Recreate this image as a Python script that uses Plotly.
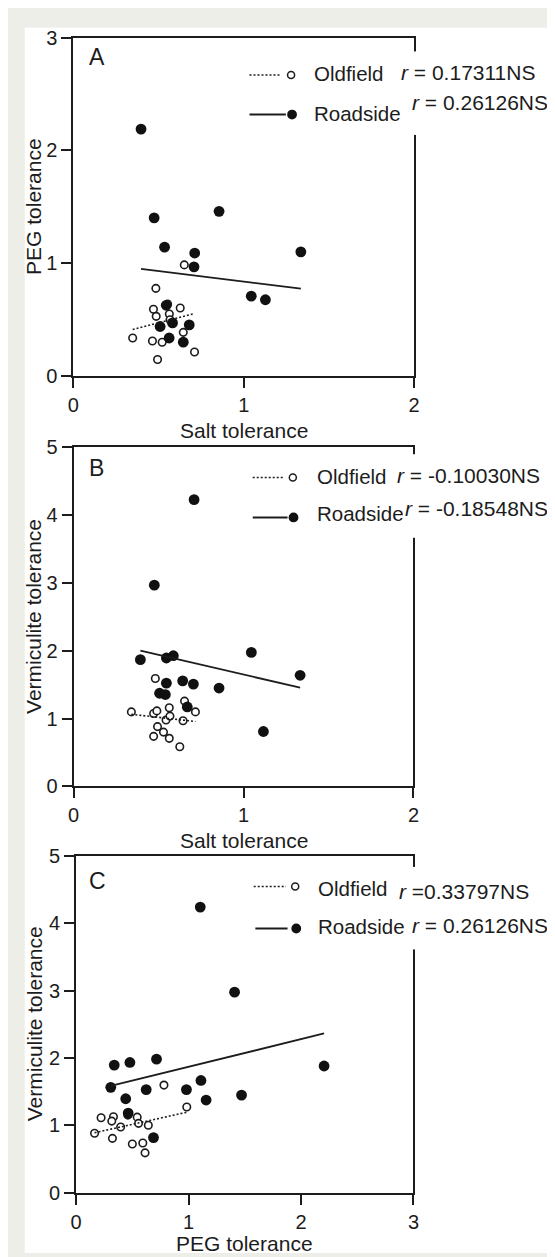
import numpy as np
import plotly.graph_objects as go

W, H = 555, 1257

# ---------------- data ----------------
# Panel A: Salt tolerance (x) vs PEG tolerance (y)
a_old_salt = [0.348, 0.484, 0.470, 0.486, 0.627, 0.563, 0.464, 0.521, 0.645, 0.711, 0.494, 0.651, 0.553, 0.567, 0.580]
a_old_peg = [0.338, 0.778, 0.593, 0.530, 0.604, 0.551, 0.311, 0.300, 0.388, 0.214, 0.148, 0.986, 0.640, 0.500, 0.470]
a_road_salt = [0.397, 0.474, 0.535, 0.855, 0.712, 0.708, 1.335, 1.044, 1.127, 0.545, 0.509, 0.582, 0.562, 0.680, 0.645]
a_road_peg = [2.190, 1.403, 1.143, 1.461, 1.091, 0.969, 1.102, 0.709, 0.677, 0.628, 0.440, 0.472, 0.338, 0.454, 0.301]

# Panel B: Salt tolerance (x) vs Vermiculite tolerance (y)
b_old_salt = [0.340, 0.481, 0.471, 0.490, 0.563, 0.544, 0.567, 0.494, 0.471, 0.529, 0.563, 0.625, 0.653, 0.717, 0.644]
b_old_verm = [1.098, 1.590, 1.074, 1.113, 1.160, 0.978, 1.036, 0.881, 0.737, 0.800, 0.708, 0.583, 1.257, 1.098, 0.968]
b_road_salt = [0.709, 0.475, 0.393, 0.546, 0.587, 1.046, 1.333, 0.546, 0.642, 0.705, 0.856, 0.506, 0.540, 0.669, 1.117]
b_road_verm = [4.229, 2.967, 1.869, 1.893, 1.927, 1.975, 1.638, 1.522, 1.556, 1.508, 1.450, 1.373, 1.354, 1.171, 0.809]

# Panel C: PEG tolerance (x) vs Vermiculite tolerance (y)
c_old_peg = [0.164, 0.222, 0.323, 0.332, 0.317, 0.396, 0.543, 0.555, 0.642, 0.500, 0.593, 0.613, 0.781, 0.984, 0.460]
c_old_verm = [0.882, 1.110, 0.805, 1.125, 1.061, 0.974, 1.120, 1.028, 0.999, 0.722, 0.736, 0.590, 1.596, 1.271, 1.150]
c_road_peg = [1.104, 1.409, 0.339, 0.478, 0.715, 2.205, 0.308, 0.623, 0.981, 1.110, 1.156, 1.471, 0.441, 0.463, 0.688]
c_road_verm = [4.238, 2.976, 1.893, 1.932, 1.981, 1.879, 1.563, 1.529, 1.529, 1.665, 1.374, 1.447, 1.393, 1.180, 0.816]

panel_letters = ["A", "B", "C"]
x_titles = ["Salt tolerance", "Salt tolerance", "PEG tolerance"]
y_titles = ["PEG tolerance", "Vermiculite tolerance", "Vermiculite tolerance"]
x_ranges = [[0, 2], [0, 2], [0, 3]]
y_ranges = [[0, 3], [0, 5], [0, 5]]
group_names = ["Oldfield", "Roadside"]
r_old_text = ["<i>r</i> = 0.17311NS", "<i>r</i> = -0.10030NS", "<i>r</i> =0.33797NS"]
r_road_text = ["<i>r</i> = 0.26126NS", "<i>r</i> = -0.18548NS", "<i>r</i> = 0.26126NS"]

datasets = [
    (a_old_salt, a_old_peg, a_road_salt, a_road_peg),
    (b_old_salt, b_old_verm, b_road_salt, b_road_verm),
    (c_old_peg, c_old_verm, c_road_peg, c_road_verm),
]

# ---------------- layout geometry (pixels) ----------------
FONT = "Liberation Sans, Arial, Helvetica, sans-serif"
INK = "#1c1c1c"

def px(x):
    return x / W

def py(y):
    return 1 - y / H

# plot-area boxes: left, right, top, bottom (pixels)
boxes = [(60.7, 409.0, 19.0, 363.5), (60.9, 408.3, 436.0, 781.0), (63.5, 408.3, 851.7, 1194.5)]
letter_pos = [(84.5, 38.5), (84.5, 457.5), (85.0, 877.5)]
xtitle_y = [419.0, 836.5, 1246.7]
ytitle_x = 20.5
legend_text_x = [304.5, 307.5, 308.5]
legend_old_y = [55.0, 466.0, 885.0]
legend_road_y = [96.5, 503.0, 924.0]
r_old_pos = [(393.0, 54.5), (389.0, 465.0), (391.0, 888.0)]
r_road_pos = [(405.0, 85.0), (397.5, 498.0), (405.0, 923.0)]
leg_dot_line = [(240.7, 272.6, 57.0, 283.2), (244.0, 276.0, 466.7, 285.0), (245.0, 278.0, 883.0, 287.4)]
leg_solid_line = [(240.7, 277.9, 97.3, 284.2), (244.0, 279.6, 507.3, 285.7), (246.7, 279.6, 925.7, 288.5)]
border_gap = [(33.0, 118.0), (443.0, 528.0), (863.0, 947.0)]

fig = go.Figure()

for i, (ox, oy, rx, ry) in enumerate(datasets):
    xa = "x" if i == 0 else f"x{i+1}"
    ya = "y" if i == 0 else f"y{i+1}"
    # Oldfield (open circles)
    fig.add_trace(go.Scatter(
        x=ox, y=oy, mode="markers", xaxis=xa, yaxis=ya, name=group_names[0], showlegend=False,
        marker=dict(symbol="circle", size=7.5, color="white", line=dict(color=INK, width=1.6))))
    # Roadside (filled)
    fig.add_trace(go.Scatter(
        x=rx, y=ry, mode="markers", xaxis=xa, yaxis=ya, name=group_names[1], showlegend=False,
        marker=dict(symbol="circle", size=10.8, color="#111111", line=dict(width=0))))
    # regression lines from the data
    for (xx, yy, dash, wdt) in [(ox, oy, "2px,2px", 1.6), (rx, ry, "solid", 1.8)]:
        k, b = np.polyfit(xx, yy, 1)
        xs = np.array([min(xx), max(xx)])
        fig.add_trace(go.Scatter(
            x=xs, y=k * xs + b, mode="lines", xaxis=xa, yaxis=ya, showlegend=False,
            line=dict(color=INK, width=wdt, dash=dash), hoverinfo="skip"))

axis_common = dict(
    showline=True, linecolor=INK, linewidth=2, mirror=True, showgrid=False, zeroline=False,
    ticks="outside", ticklen=10, tickwidth=2, tickcolor=INK, dtick=1, tick0=0,
    tickfont=dict(family=FONT, size=20, color=INK), fixedrange=True,
)

layout = dict(
    width=W, height=H, margin=dict(l=0, r=0, t=0, b=0),
    paper_bgcolor="#eeeee8", plot_bgcolor="white", showlegend=False,
)
for i in range(3):
    l, r, t, b = boxes[i]
    sx = "" if i == 0 else str(i + 1)
    layout["xaxis" + sx] = dict(axis_common, domain=[px(l), px(r)], range=x_ranges[i],
                                anchor="y" + sx)
    layout["yaxis" + sx] = dict(axis_common, domain=[py(b), py(t)], range=y_ranges[i],
                                anchor="x" + sx)
fig.update_layout(**layout)

shapes = []
# white sheet over the grey page
shapes.append(dict(type="rect", xref="paper", yref="paper", x0=px(11), x1=1.0, y0=py(1256), y1=py(9),
                   fillcolor="white", line=dict(width=0), layer="below"))
annotations = []
for i in range(3):
    l, r, t, b = boxes[i]
    # gap in right border behind legend texts
    g0, g1 = border_gap[i]
    shapes.append(dict(type="rect", xref="paper", yref="paper", x0=px(r - 4), x1=px(r + 4),
                       y0=py(g1), y1=py(g0), fillcolor="white", line=dict(width=0), layer="above"))
    # legend symbols
    x0, x1, yy, cx = leg_dot_line[i]
    shapes.append(dict(type="line", xref="paper", yref="paper", x0=px(x0), x1=px(x1), y0=py(yy), y1=py(yy),
                       line=dict(color=INK, width=1.6, dash="2px,2px"), layer="above"))
    rr = 3.6
    shapes.append(dict(type="circle", xref="paper", yref="paper", x0=px(cx - rr), x1=px(cx + rr),
                       y0=py(yy + rr), y1=py(yy - rr), fillcolor="white",
                       line=dict(color=INK, width=1.5), layer="above"))
    x0, x1, yy, cx = leg_solid_line[i]
    shapes.append(dict(type="line", xref="paper", yref="paper", x0=px(x0), x1=px(x1), y0=py(yy), y1=py(yy),
                       line=dict(color=INK, width=2), layer="above"))
    rr = 5.0
    shapes.append(dict(type="circle", xref="paper", yref="paper", x0=px(cx - rr), x1=px(cx + rr),
                       y0=py(yy + rr), y1=py(yy - rr), fillcolor="#111111",
                       line=dict(color="#111111", width=0), layer="above"))

    # texts
    annotations.append(dict(text=panel_letters[i], x=px(letter_pos[i][0]), y=py(letter_pos[i][1]),
                            xref="paper", yref="paper", showarrow=False, xanchor="center", yanchor="middle",
                            font=dict(family=FONT, size=23, color=INK)))
    annotations.append(dict(text=x_titles[i], x=px((l + r) / 2), y=py(xtitle_y[i]), xref="paper", yref="paper",
                            showarrow=False, xanchor="center", yanchor="middle",
                            font=dict(family=FONT, size=21, color=INK)))
    annotations.append(dict(text=y_titles[i], x=px(ytitle_x), y=py((t + b) / 2), xref="paper", yref="paper",
                            showarrow=False, xanchor="center", yanchor="middle", textangle=-90,
                            font=dict(family=FONT, size=21, color=INK)))
    annotations.append(dict(text=group_names[0], x=px(legend_text_x[i]), y=py(legend_old_y[i]),
                            xref="paper", yref="paper", showarrow=False, xanchor="left", yanchor="middle",
                            font=dict(family=FONT, size=20.5, color=INK)))
    annotations.append(dict(text=group_names[1], x=px(legend_text_x[i]), y=py(legend_road_y[i]),
                            xref="paper", yref="paper", showarrow=False, xanchor="left", yanchor="middle",
                            font=dict(family=FONT, size=20.5, color=INK)))
    annotations.append(dict(text=r_old_text[i], x=px(r_old_pos[i][0]), y=py(r_old_pos[i][1]),
                            xref="paper", yref="paper", showarrow=False, xanchor="left", yanchor="middle",
                            font=dict(family=FONT, size=21, color=INK)))
    annotations.append(dict(text=r_road_text[i], x=px(r_road_pos[i][0]), y=py(r_road_pos[i][1]),
                            xref="paper", yref="paper", showarrow=False, xanchor="left", yanchor="middle",
                            font=dict(family=FONT, size=21, color=INK)))

fig.update_layout(shapes=shapes, annotations=annotations)
fig.write_html("out.html")
